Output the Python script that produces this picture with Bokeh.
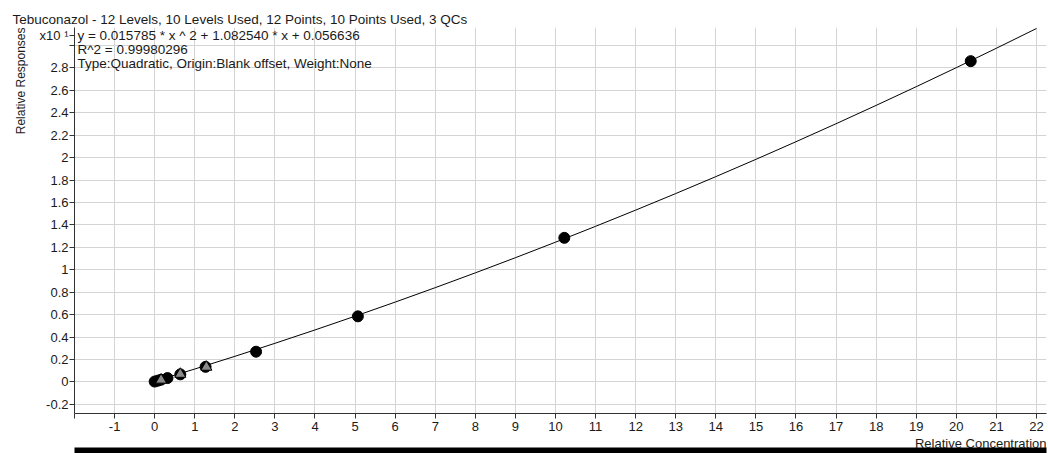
from bokeh.plotting import figure
from bokeh.models import Range1d, FixedTicker, Label, Title, LinearAxis
from bokeh.embed import file_html
from bokeh.resources import INLINE

# ---- data (responses in units of x10^1) ----
cal_x = [0.0, 0.08, 0.16, 0.32, 0.64, 1.27, 2.53, 5.07, 10.22, 20.36]
cal_y = [0.004, 0.012, 0.02, 0.035, 0.068, 0.135, 0.27, 0.585, 1.285, 2.86]
qc_x = [0.16, 0.64, 1.29]
qc_y = [0.018, 0.07, 0.133]
curve_x = [0, 1, 2, 3, 4, 5, 6, 7, 8, 9, 10, 11, 12, 13, 14, 15, 16, 17, 18, 19, 20, 21, 22]
curve_y = [0.0057, 0.1155, 0.2285, 0.3446, 0.4639, 0.5864, 0.7120, 0.8408, 0.9727,
           1.1078, 1.2461, 1.3875, 1.5320, 1.6797, 1.8306, 1.9846, 2.1418, 2.3022,
           2.4657, 2.6323, 2.8021, 2.9751, 3.1512]

x_ticks = [-2, -1, 0, 1, 2, 3, 4, 5, 6, 7, 8, 9, 10, 11, 12, 13, 14, 15, 16, 17, 18, 19, 20, 21, 22]
x_tick_labels = [""] + [str(t) for t in x_ticks[1:]]
y_grid_ticks = [-0.2, 0.0, 0.2, 0.4, 0.6, 0.8, 1.0, 1.2, 1.4, 1.6, 1.8, 2.0, 2.2, 2.4,
                2.6, 2.8, 3.0]
y_ticks = y_grid_ticks + [3.088]
y_tick_labels = ["-0.2", "0", "0.2", "0.4", "0.6", "0.8", "1", "1.2", "1.4", "1.6", "1.8",
                 "2", "2.2", "2.4", "2.6", "2.8", "", "x10 \u00b9"]

title_text = "Tebuconazol - 12 Levels, 10 Levels Used, 12 Points, 10 Points Used, 3 QCs"
eq_lines = ["y = 0.015785 * x ^ 2  + 1.082540 * x  + 0.056636",
            "R^2 = 0.99980296",
            "Type:Quadratic, Origin:Blank offset, Weight:None"]
x_label = "Relative Concentration"
y_label = "Relative Responses"

FONT = "Liberation Sans"
FS = "13px"
FS_T = "13.5px"
TXT = "#1a1a1a"

p = figure(width=1048, height=453,
           x_range=Range1d(-2, 22.25), y_range=Range1d(-0.281, 3.16),
           output_backend="svg", toolbar_location=None,
           min_border_left=74, min_border_right=2, min_border_top=27, min_border_bottom=40)
p.outline_line_color = None
p.background_fill_color = "white"
p.border_fill_color = "white"

p.title.text = title_text
p.title.align = "left"
p.title.offset = -62
p.title.standoff = 1
p.title.text_font = FONT
p.title.text_font_size = FS_T
p.title.text_font_style = "normal"
p.title.text_color = TXT

p.xaxis.ticker = FixedTicker(ticks=x_ticks)
p.yaxis.ticker = FixedTicker(ticks=y_ticks)
p.xaxis.major_label_overrides = dict(zip(x_ticks, x_tick_labels))
p.yaxis.major_label_overrides = dict(zip(y_ticks, y_tick_labels))
p.xgrid.ticker = FixedTicker(ticks=x_ticks)
p.ygrid.ticker = FixedTicker(ticks=y_grid_ticks)
for g in (p.xgrid, p.ygrid):
    g.grid_line_color = "#d4d4d4"
    g.grid_line_width = 1

for ax in (p.xaxis, p.yaxis):
    ax.axis_line_color = "#333333"
    ax.major_tick_line_color = "#333333"
    ax.minor_tick_line_color = None
    ax.major_tick_in = 0
    ax.major_tick_out = 5
    ax.major_label_text_font = FONT
    ax.major_label_text_font_size = FS
    ax.major_label_text_color = TXT

p.xaxis.major_label_standoff = 3
p.yaxis.major_label_standoff = 1

# axis titles placed in the side panels
p.add_layout(Title(text=x_label, align="right", standoff=0, text_font=FONT,
                   text_font_size=FS, text_font_style="normal", text_color=TXT), "below")
p.add_layout(Title(text=y_label, align="right", standoff=18, text_font=FONT,
                   text_font_size="12px", text_font_style="normal", text_color=TXT), "left")

# thick black window edge at the bottom
edge = LinearAxis(ticker=FixedTicker(ticks=[]), axis_line_color="black", axis_line_width=6,
                  major_tick_line_color=None, minor_tick_line_color=None,
                  major_label_text_font_size="0px")
p.add_layout(edge, "below")

p.line(curve_x, curve_y, line_color="black", line_width=1)
p.scatter(cal_x, cal_y, marker="circle", size=11, fill_color="black", line_color="black")
p.scatter(qc_x, qc_y, marker="triangle", size=11, fill_color="#8a8a8a", line_color="black")

def dx(px):
    return (px - 154.2) / 40.08

def dy(py):
    return (381.0 - py) / 112.05

for i, line in enumerate(eq_lines):
    p.add_layout(Label(x=dx(77), y=dy(35 + 14 * i), text=line, text_font=FONT,
                       text_font_size=FS_T, text_color=TXT, text_align="left",
                       text_baseline="middle"))

open("out.html", "w").write(file_html(p, INLINE))
